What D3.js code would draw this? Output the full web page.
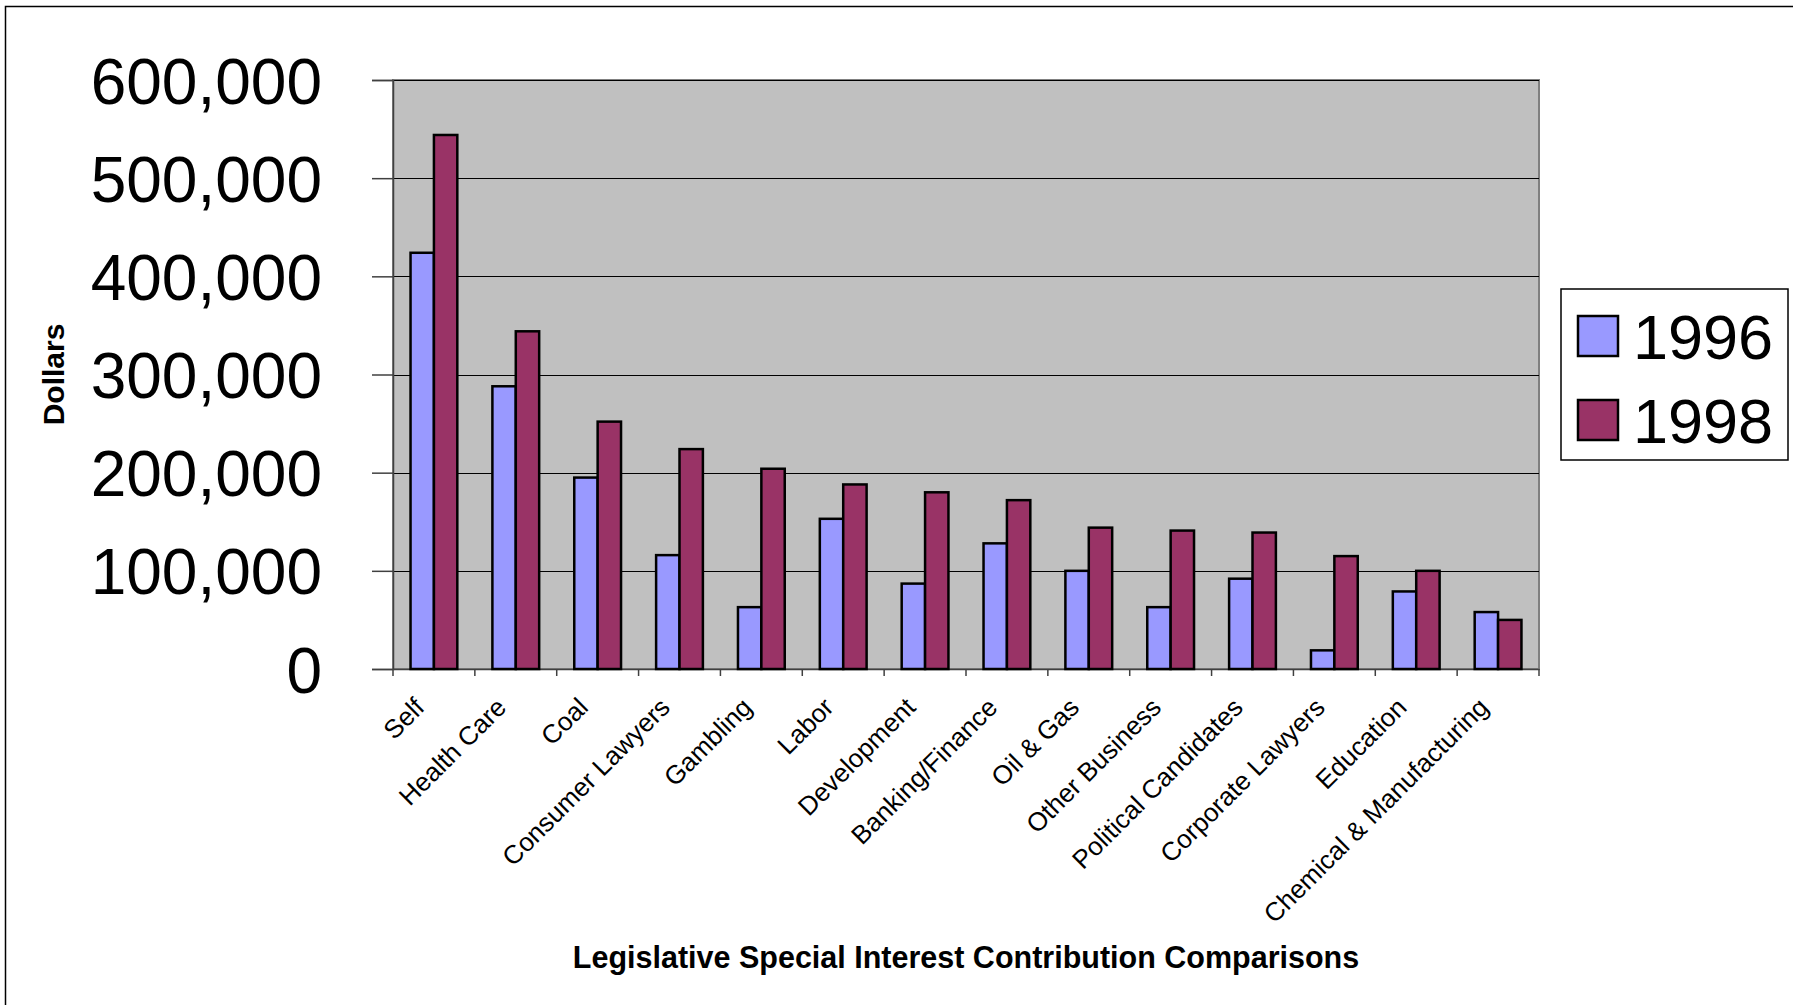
<!DOCTYPE html>
<html><head><meta charset="utf-8">
<script src="https://cdn.jsdelivr.net/npm/d3@7"></script>
<style>
body{margin:0;background:#fff;overflow:hidden;}
svg{display:block;}
text{font-family:"Liberation Sans",Arial,Helvetica,sans-serif;fill:#000;}
</style>
</head><body>
<script>
const categories = ["Self","Health Care","Coal","Consumer Lawyers","Gambling","Labor","Development","Banking/Finance","Oil & Gas","Other Business","Political Candidates","Corporate Lawyers","Education","Chemical & Manufacturing"];
const values1996 = [424000,288000,195000,116000,63000,153000,87000,128000,100000,63000,92000,19000,79000,58000];
const values1998 = [544000,344000,252000,224000,204000,188000,180000,172000,144000,141000,139000,115000,100000,50000];
const seriesNames = ["1996","1998"];
const seriesColors = ["#9999FF","#993366"];
const yTicks = [0,100000,200000,300000,400000,500000,600000];
const yTitle = "Dollars";
const xTitle = "Legislative Special Interest Contribution Comparisons";

const W = 1793, H = 1005;
const plot = {left:393, right:1539, top:80, bottom:669};

const svg = d3.select("body").append("svg").attr("width",W).attr("height",H);

// outer chart border
svg.append("rect").attr("x",5.5).attr("y",6.5).attr("width",1900).attr("height",1100)
  .attr("fill","#fff").attr("stroke","#000").attr("stroke-width",1.5);

const x = d3.scaleBand().domain(categories).range([plot.left, plot.right]).padding(0);
const y = d3.scaleLinear().domain([0,600000]).range([plot.bottom, plot.top]);

// plot area
svg.append("rect").attr("x",plot.left).attr("y",plot.top)
  .attr("width",plot.right-plot.left).attr("height",plot.bottom-plot.top)
  .attr("fill","#C0C0C0").attr("stroke","#808080").attr("stroke-width",2);

// gridlines
svg.append("g").selectAll("line").data(yTicks.filter(d=>d>0)).join("line")
  .attr("x1",plot.left).attr("x2",plot.right)
  .attr("y1",d=>Math.round(y(d))+0.5).attr("y2",d=>Math.round(y(d))+0.5)
  .attr("stroke","#000").attr("stroke-width",1);

// y axis
const yAxis = svg.append("g").attr("transform",`translate(${plot.left},0)`)
  .call(d3.axisLeft(y).tickValues(yTicks).tickSize(21).tickPadding(50).tickFormat(d3.format(",")));
yAxis.select(".domain").attr("stroke","#404040").attr("stroke-width",1.5);
yAxis.selectAll(".tick line").attr("stroke","#404040").attr("stroke-width",1.5);
yAxis.selectAll("text").attr("font-size",64).attr("font-family","'Liberation Sans',Arial,sans-serif").attr("fill","#000").attr("dy","0.36em");

// x axis
const band = x.bandwidth();
const xAxis = svg.append("g").attr("transform",`translate(0,${plot.bottom})`)
  .call(d3.axisBottom(x).tickSize(0).tickFormat(""));
xAxis.select(".domain").attr("stroke","#404040").attr("stroke-width",1.5);
xAxis.selectAll(".tick").remove();
const boundaries = categories.map(c=>x(c)).concat([plot.right]);
svg.append("g").selectAll("line").data(boundaries).join("line")
  .attr("x1",d=>d).attr("x2",d=>d).attr("y1",plot.bottom).attr("y2",plot.bottom+7)
  .attr("stroke","#404040").attr("stroke-width",1.5);

// bars
const barW = band/3.5;
const series = [values1996, values1998];
series.forEach((vals,si)=>{
  svg.append("g").selectAll("rect").data(categories).join("rect")
    .attr("x",(c)=>x(c)+band/2 - barW + si*barW)
    .attr("y",(c,i)=>y(vals[i]))
    .attr("width",barW)
    .attr("height",(c,i)=>y(0)-y(vals[i]))
    .attr("fill",seriesColors[si]).attr("stroke","#000").attr("stroke-width",2.5);
});

// category labels
svg.append("g").selectAll("text").data(categories).join("text")
  .attr("transform",c=>`translate(${x(c)+band/2-8},${plot.bottom+40}) rotate(-45)`)
  .attr("text-anchor","end").attr("font-size",26).text(c=>c);

// y title
svg.append("text").attr("transform",`translate(64,${(plot.top+plot.bottom)/2}) rotate(-90)`)
  .attr("text-anchor","middle").attr("font-size",30).attr("font-weight","bold").text(yTitle);

// x title
svg.append("text").attr("x",966).attr("y",968).attr("text-anchor","middle")
  .attr("font-size",30.5).attr("font-weight","bold").text(xTitle);

// legend
const lg = svg.append("g");
lg.append("rect").attr("x",1561).attr("y",289).attr("width",227).attr("height",171)
  .attr("fill","#fff").attr("stroke","#000").attr("stroke-width",1.5);
seriesNames.forEach((n,i)=>{
  const cy = 336 + i*84;
  lg.append("rect").attr("x",1578).attr("y",cy-20).attr("width",40).attr("height",40)
    .attr("fill",seriesColors[i]).attr("stroke","#000").attr("stroke-width",2.5);
  lg.append("text").attr("x",1633).attr("y",cy).attr("dy","0.36em").attr("font-size",63).text(n);
});
</script>
</body></html>
